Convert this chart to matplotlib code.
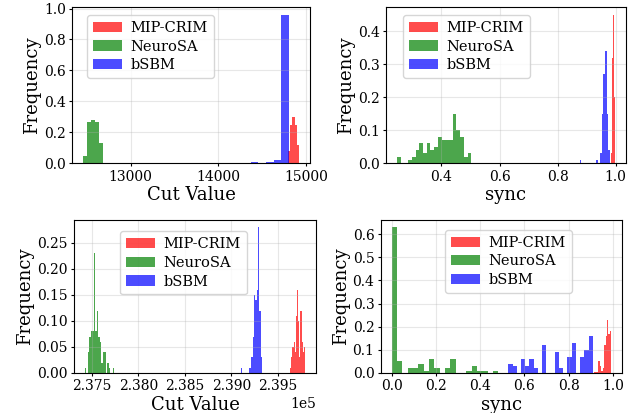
import numpy as np
import matplotlib.pyplot as plt
plt.switch_backend('agg')
plt.rcParams['font.family'] = 'DejaVu Serif'

labels = ['MIP-CRIM', 'NeuroSA', 'bSBM']
colors = ['red', 'green', 'blue']

# top-left: cut value (bin start, bin width, frequencies)
cut1_mip = (14793, 25.7, [0.08, 0.25, 0.30, 0.25, 0.12])
cut1_neuro = (12455, 45.0, [0.05, 0.27, 0.28, 0.27, 0.13])
cut1_bsbm = (14370, 87.0, [0.01, 0.0, 0.01, 0.02, 0.96])

# top-right: sync
sync1_mip = (0.984, 0.0035, [0.03, 0.32, 0.45, 0.20])
sync1_neuro = (0.2465, 0.01283, [0.02, 0, 0, 0.01, 0.02, 0.04, 0.06, 0.03, 0.06, 0.04,
                                 0.05, 0.08, 0.07, 0.07, 0.07, 0.15, 0.10, 0.08, 0.02, 0.03])
sync1_bsbm = (0.876, 0.0058, [0.01, 0, 0, 0, 0, 0, 0, 0, 0, 0, 0.01, 0, 0.03, 0.15,
                              0.27, 0.34, 0.15, 0.04])

# bottom-left: cut value
cut2_mip = (239630, 12.3, [0.01, 0.03, 0.05, 0.06, 0.04, 0.11, 0.16, 0.10, 0.03,
                           0.12, 0.06, 0.04, 0.05])
cut2_neuro = (237429, 15.8, [0.01, 0, 0.04, 0.07, 0.08, 0.08, 0.23, 0.08, 0.12, 0.07,
                             0.06, 0.02, 0.04, 0.04, 0, 0.02, 0.01, 0, 0, 0.01])
cut2_bsbm = (239100, 14.3, [0.01, 0, 0, 0, 0, 0, 0.01, 0.01, 0.03, 0.07, 0.15, 0.14,
                            0.16, 0.28, 0.12, 0.03])

# bottom-right: sync
sync2_mip = (0.914, 0.00656, [0.005, 0.005, 0.005, 0.05, 0.03, 0.01, 0.02, 0.12,
                              0.16, 0.23, 0.17, 0.18])
sync2_neuro = (0.0, 0.0241, [0.63, 0.05, 0, 0.02, 0.02, 0.04, 0.01, 0.06, 0.02, 0,
                             0.02, 0.06, 0, 0, 0.01, 0.03, 0.01, 0.01, 0, 0.01])
sync2_bsbm = (0.527, 0.0191, [0.04, 0.03, 0, 0.06, 0.03, 0.06, 0.02, 0, 0.12, 0, 0,
                              0.09, 0.02, 0, 0.07, 0.13, 0, 0.07, 0.10, 0.16])

panels = [
    ([cut1_mip, cut1_neuro, cut1_bsbm], 'Cut Value', [0.1136, 0.6046, 0.3754, 0.3777],
     [13000, 14000, 15000], np.arange(0, 1.01, 0.2), (0.063, 0.95)),
    ([sync1_mip, sync1_neuro, sync1_bsbm], 'sync', [0.6088, 0.6046, 0.3785, 0.3777],
     [0.4, 0.6, 0.8, 1.0], np.arange(0, 0.41, 0.1), (0.07, 0.95)),
    ([cut2_mip, cut2_neuro, cut2_bsbm], 'Cut Value', [0.1167, 0.0969, 0.3817, 0.3704],
     [237500, 238000, 238500, 239000, 239500], np.arange(0, 0.26, 0.05), (0.19, 0.925)),
    ([sync2_mip, sync2_neuro, sync2_bsbm], 'sync', [0.6005, 0.0969, 0.3811, 0.3704],
     [0.0, 0.2, 0.4, 0.6, 0.8, 1.0], np.arange(0, 0.61, 0.1), (0.266, 0.935)),
]

fig = plt.figure(figsize=(6.34, 4.13), dpi=100)
for series, xlabel, pos, xt, yt, anchor in panels:
    ax = fig.add_axes(pos)
    for (start, width, freq), lab, col in zip(series, labels, colors):
        freq = np.array(freq, dtype=float)
        edges = start + width * np.arange(len(freq) + 1)
        centers = (edges[:-1] + edges[1:]) / 2
        ax.hist(centers, bins=edges, weights=freq, color=col, alpha=0.7, label=lab)
    ax.set_xticks(xt)
    ax.set_yticks(yt)
    ax.set_xlabel(xlabel, fontsize=13, labelpad=2)
    ax.set_ylabel('Frequency', fontsize=13, labelpad=2)
    ax.tick_params(labelsize=10, length=2.5, pad=2)
    ax.grid(True, alpha=0.3)
    ax.legend(loc='upper left', bbox_to_anchor=anchor, borderaxespad=0, fontsize=10.5,
              borderpad=0.4, labelspacing=0.32, handletextpad=0.6)
    if xt[0] > 100000:
        ax.ticklabel_format(axis='x', style='sci', scilimits=(0, 0))
        ax.xaxis.get_offset_text().set_fontsize(10)

fig.savefig('out.png', dpi=100)
